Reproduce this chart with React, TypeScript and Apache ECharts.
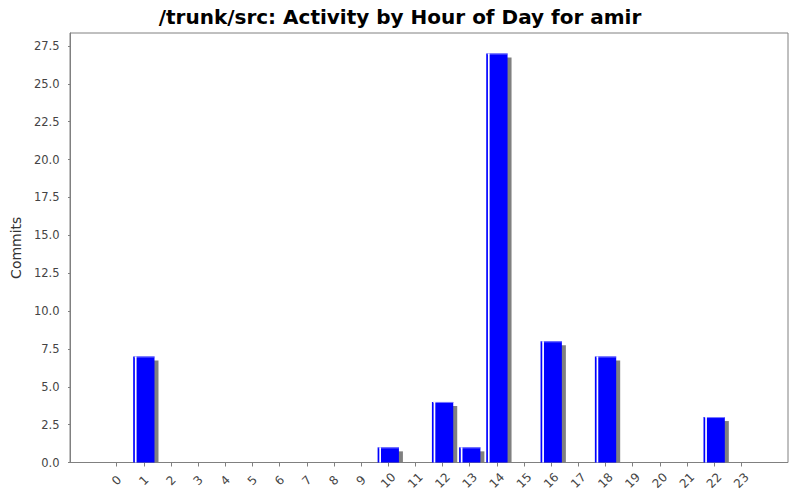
import React, { useEffect, useRef } from "react";
import * as echarts from "echarts";

const hours = ["0","1","2","3","4","5","6","7","8","9","10","11","12","13","14","15","16","17","18","19","20","21","22","23"];
const commits = [0,7,0,0,0,0,0,0,0,0,1,0,4,1,27,0,8,0,7,0,0,0,3,0];
const yTicks = [0,2.5,5,7.5,10,12.5,15,17.5,20,22.5,25,27.5];
const yMax = 28.35;

export default function App() {
  const ref = useRef<HTMLDivElement>(null);
  useEffect(() => {
    if (!ref.current) return;
    const chart = echarts.init(ref.current, null, { renderer: "svg" });
    const font = "DejaVu Sans";
    chart.setOption({
      animation: false,
      backgroundColor: "#ffffff",
      title: {
        text: "/trunk/src: Activity by Hour of Day for amir",
        left: "center",
        top: 2,
        textStyle: { fontFamily: font, fontSize: 20, fontWeight: "bold", color: "#000" },
      },
      grid: [
        { left: 70, right: 12, top: 33, bottom: 37.5, show: true, borderColor: "#808080", borderWidth: 1, backgroundColor: "#ffffff" },
        { left: 103.1, right: 45.1, top: 33, bottom: 37.5 },
      ],
      xAxis: [
        { type: "value", gridIndex: 0, show: false, min: 0, max: 1 },
        {
          type: "category",
          gridIndex: 1,
          data: hours,
          boundaryGap: true,
          axisLine: { show: false },
          axisTick: { show: true, alignWithLabel: true, length: 4, lineStyle: { color: "#808080" } },
          axisLabel: {
            rotate: 45,
            margin: 18,
            align: "center",
            verticalAlign: "middle",
            fontFamily: font,
            fontSize: 12,
            color: "#444",
            interval: 0,
          },
          splitLine: { show: false },
        },
      ],
      yAxis: [
        {
          type: "value",
          gridIndex: 0,
          min: 0,
          max: yMax,
          offset: 5.5,
          name: "Commits",
          nameLocation: "middle",
          nameGap: 37,
          nameTextStyle: { fontFamily: font, fontSize: 14, color: "#333" },
          axisLine: { show: true, lineStyle: { color: "#808080" } },
          axisTick: { show: true, length: 2, customValues: yTicks, lineStyle: { color: "#808080" } },
          axisLabel: {
            customValues: yTicks,
            fontFamily: font,
            fontSize: 11.5,
            color: "#444",
            margin: 5,
            formatter: (v: number) => v.toFixed(1),
          },
          splitLine: { show: false },
        },
        { type: "value", gridIndex: 1, min: 0, max: yMax, show: false, splitLine: { show: false } },
      ],
      series: [
        {
          type: "custom",
          xAxisIndex: 1,
          yAxisIndex: 1,
          data: commits.map((v, i) => [i, v]),
          encode: { x: 0, y: 1 },
          renderItem: (params: any, api: any) => {
            const v = api.value(1);
            if (!v) return null;
            const idx = api.value(0);
            const base = api.coord([idx, 0]);
            const top = api.coord([idx, v]);
            const band = api.size([1, 0])[0];
            const w = band * 0.785;
            const x = top[0] - w / 2;
            const h = base[1] - top[1];
            return {
              type: "group",
              children: [
                { type: "rect", shape: { x: x + 4, y: top[1] + 4, width: w, height: Math.max(h - 4, 0) }, style: { fill: "#808080" } },
                { type: "rect", shape: { x, y: top[1], width: w, height: h }, style: { fill: "#0000ff" } },
                { type: "rect", shape: { x: x + 1, y: top[1], width: w - 1, height: 1 }, style: { fill: "#8080ff" } },
                { type: "rect", shape: { x: x + 1.7, y: top[1], width: 1.7, height: h }, style: { fill: "#ffffff" } },
              ],
            };
          },
        },
      ],
    });
    return () => chart.dispose();
  }, []);
  return <div ref={ref} style={{ width: 800, height: 500, position: "absolute", left: 0, top: 0 }} />;
}
